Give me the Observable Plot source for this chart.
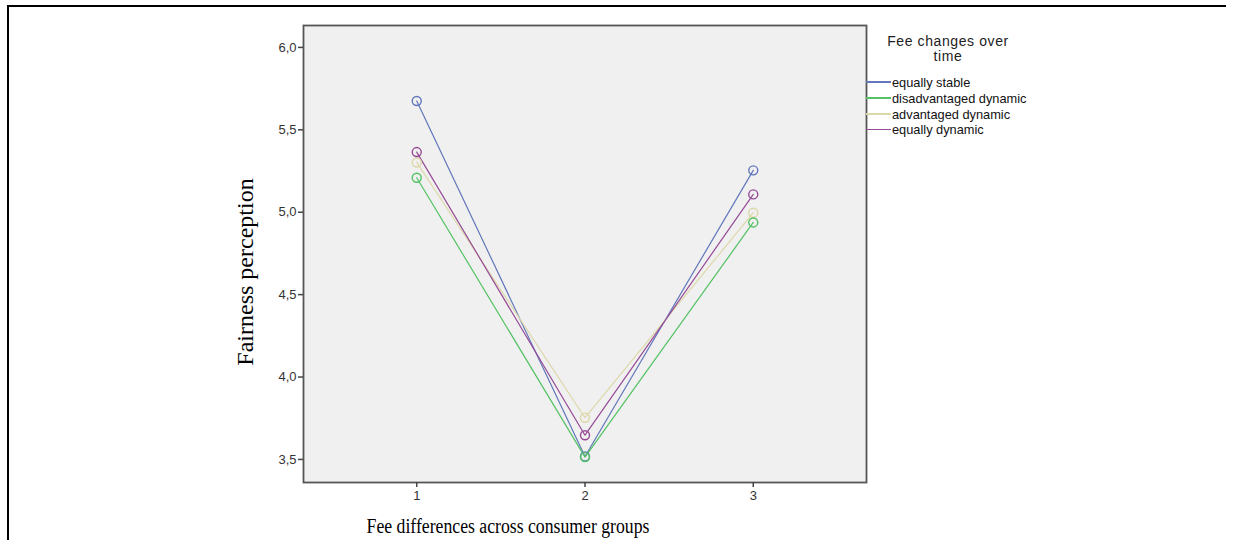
<!DOCTYPE html>
<html>
<head>
<meta charset="utf-8">
<script src="https://cdn.jsdelivr.net/npm/d3@7"></script>
<script src="https://cdn.jsdelivr.net/npm/@observablehq/plot@0.6"></script>
<style>
  html, body { margin: 0; padding: 0; background: #fff; }
  #wrap { position: relative; width: 1235px; height: 540px; overflow: hidden; background: #fff; }
  #wrap svg { position: absolute; left: 0; top: 0; }
  .bt { position: absolute; left: 7px; top: 5px; width: 1219px; height: 2px; background: #000; }
  .bl { position: absolute; left: 7px; top: 5px; width: 2px; height: 540px; background: #000; }
  .ytitle { position: absolute; left: 245px; top: 272px; transform: translate(-50%, -50%) rotate(-90deg);
    font-family: "Liberation Serif", "Times New Roman", serif; font-size: 24px; color: #000; white-space: nowrap; }
  .xtitle { position: absolute; left: 508px; top: 526px; transform: translate(-50%, -50%) scaleX(0.885);
    font-family: "Liberation Serif", "Times New Roman", serif; font-size: 20px; color: #000; white-space: nowrap; }
  .legtitle { position: absolute; left: 948px; top: 34px; transform: translateX(-50%); text-align: center;
    font-family: "Liberation Sans", Arial, sans-serif; font-size: 14px; letter-spacing: 0.6px; line-height: 15px; color: #222; white-space: nowrap; }
  .legitem { position: absolute; left: 866px; height: 14px; display: flex; align-items: center;
    font-family: "Liberation Sans", Arial, sans-serif; font-size: 12.8px; color: #111; white-space: nowrap; }
  .legitem span.sw { display: inline-block; width: 25px; height: 1.3px; margin-right: 1px; }
</style>
</head>
<body>
<div id="wrap"></div>
<script>
// ---- data ----
const xCategories = [1, 2, 3];
const seriesNames = ["equally stable", "disadvantaged dynamic", "advantaged dynamic", "equally dynamic"];
const seriesColors = ["#6277bb", "#52c263", "#ddd8aa", "#964a96"];
const equallyStable = [5.675, 3.518, 5.254];
const disadvantagedDynamic = [5.209, 3.514, 4.938];
const advantagedDynamic = [5.302, 3.753, 4.997];
const equallyDynamic = [5.365, 3.647, 5.108];
const yTicks = [3.5, 4.0, 4.5, 5.0, 5.5, 6.0];
const legendTitle = ["Fee changes over", "time"];
const xTitle = "Fee differences across consumer groups";
const yTitle = "Fairness perception";

// Draw order: later series on top
const drawOrder = ["equally stable", "advantaged dynamic", "equally dynamic", "disadvantaged dynamic"];
const valuesBySeries = {
  "equally stable": equallyStable,
  "disadvantaged dynamic": disadvantagedDynamic,
  "advantaged dynamic": advantagedDynamic,
  "equally dynamic": equallyDynamic
};
const table = [];
for (const s of drawOrder) {
  valuesBySeries[s].forEach((v, i) => table.push({series: s, x: xCategories[i], y: v}));
}
const colorOf = Object.fromEntries(seriesNames.map((s, i) => [s, seriesColors[i]]));
const fmt = d => d3.format(".1f")(d).replace(".", ",");

const plot = Plot.plot({
  width: 1235,
  height: 540,
  marginLeft: 303,
  marginRight: 369,
  marginTop: 25,
  marginBottom: 58,
  style: { fontFamily: "'Liberation Sans', Arial, sans-serif", fontSize: "13px", background: "transparent", color: "#333" },
  x: { domain: [0.327, 3.673], ticks: xCategories, tickFormat: d => String(d), tickSize: 5, label: null },
  y: { domain: [3.36, 6.133], ticks: yTicks, tickFormat: fmt, tickSize: 5, label: null },
  color: { domain: seriesNames, range: seriesColors },
  marks: [
    Plot.frame({ fill: "#f0f0f0", stroke: "none" }),
    Plot.line(table, { x: "x", y: "y", z: "series", stroke: d => colorOf[d.series], strokeWidth: 1.2 }),
    Plot.dot(table, { x: "x", y: "y", stroke: d => colorOf[d.series], fill: "none", r: 4.5, strokeWidth: 1.4 }),
    Plot.frame({ stroke: "#555", strokeWidth: 1.8 }),
    Plot.axisY({ ticks: yTicks, tickFormat: fmt, tickSize: 5, tickPadding: 2, stroke: "#444", strokeWidth: 1.5, label: null, fill: "#333", fontSize: 13 }),
    Plot.axisX({ ticks: xCategories, tickFormat: d => String(d), tickSize: 5, tickPadding: 3, stroke: "#444", strokeWidth: 1.5, label: null, fill: "#333", fontSize: 13 })
  ]
});

const wrap = document.getElementById("wrap");
wrap.appendChild(plot);

const add = (cls, html, style) => {
  const d = document.createElement("div");
  d.className = cls;
  d.innerHTML = html;
  if (style) Object.assign(d.style, style);
  wrap.appendChild(d);
  return d;
};
add("bt", "");
add("bl", "");
add("ytitle", yTitle);
add("xtitle", xTitle);
add("legtitle", legendTitle.join("<br>"));
const legY = [82, 98, 114, 129.5];
seriesNames.forEach((s, i) => {
  add("legitem", `<span class="sw" style="background:${seriesColors[i]}"></span>${s}`, { top: (legY[i] - 7) + "px" });
});
</script>
</body>
</html>
